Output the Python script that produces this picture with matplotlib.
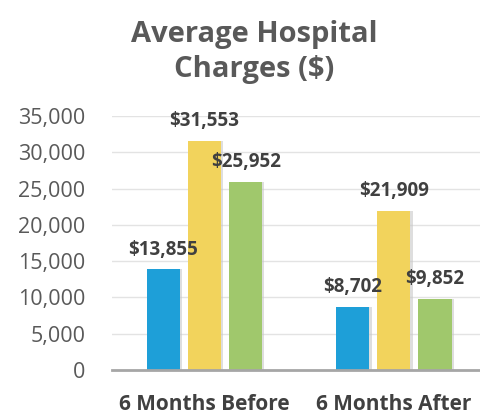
import numpy as np
import matplotlib.pyplot as plt

plt.rcParams['font.family'] = ['Open Sans', 'DejaVu Sans']

periods = ["6 Months Before", "6 Months After"]
series_a = [13855, 8702]
series_b = [31553, 21909]
series_c = [25952, 9852]
colors = ["#1E9FD8", "#F2D35C", "#A0C86C"]
yticks = [0, 5000, 10000, 15000, 20000, 25000, 30000, 35000]

fig = plt.figure(figsize=(4.8, 4.17), dpi=100)
ax = fig.add_axes([0.233, 0.1127, 0.767, 0.609])

x = np.arange(len(periods))
width = 0.175
step = 0.217

for i, (vals, col) in enumerate(zip([series_a, series_b, series_c], colors)):
    pos = x + (i - 1) * step
    # soft shadow to the right of each bar
    ax.bar(pos + 0.012, vals, width, color="#c8c8c8", alpha=0.6, zorder=2)
    bars = ax.bar(pos, vals, width, color=col, zorder=3)
    for b, v in zip(bars, vals):
        ax.annotate("${:,}".format(v), (b.get_x() + b.get_width() / 2, v),
                    xytext=(0, 7), textcoords="offset points",
                    ha="center", va="bottom", fontsize=13.5,
                    fontweight="bold", color="#404040", zorder=5)

ax.set_xlim(-0.49, 1.455)
ax.set_ylim(0, 35000)
ax.set_yticks(yticks)
ax.set_yticklabels(["{:,}".format(t) for t in yticks], fontsize=15.5, color="#595959")
ax.set_xticks(x)
ax.set_xticklabels(periods, fontsize=15, fontweight="bold", color="#404040")
ax.tick_params(axis="y", length=0, pad=19)
ax.tick_params(axis="x", length=0, pad=17)

ax.grid(axis="y", color="#e3e3e3", linewidth=1, zorder=0)
for s in ["top", "right", "left"]:
    ax.spines[s].set_visible(False)
ax.spines["bottom"].set_color("#a6a6a6")
ax.spines["bottom"].set_linewidth(2)
ax.spines["bottom"].set_zorder(4)

fig.text(0.53, 0.875, "Average Hospital\nCharges ($)", ha="center", va="center",
         fontsize=21, fontweight="bold", color="#595959", linespacing=1.3)

fig.savefig("out.png", dpi=100)
